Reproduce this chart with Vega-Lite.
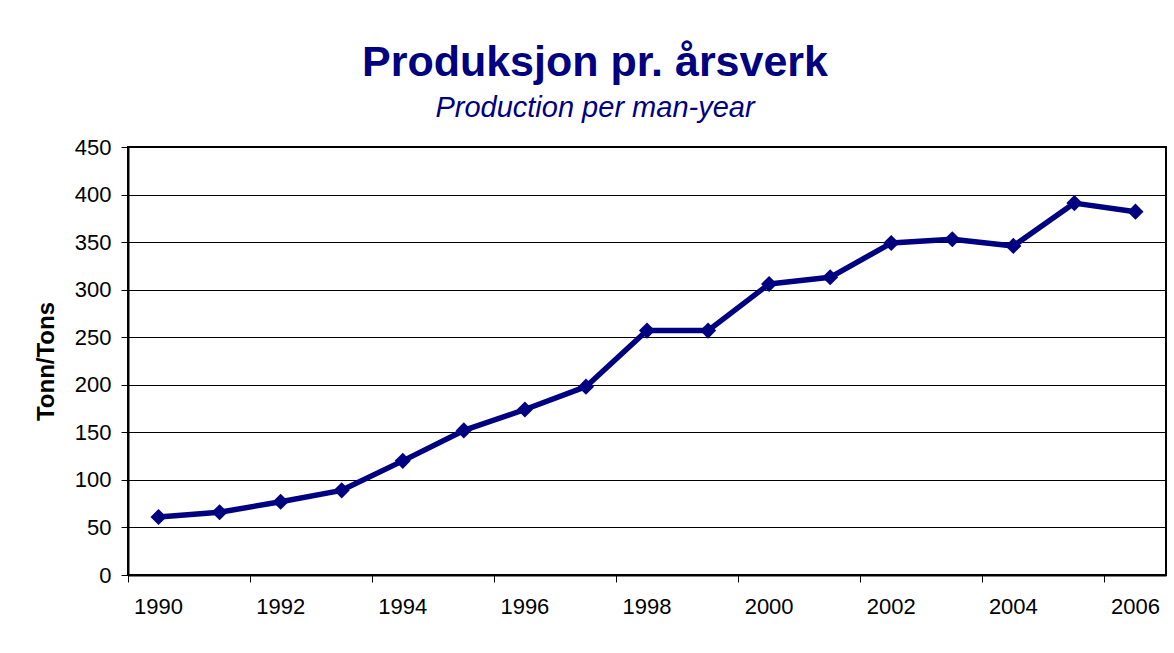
{
  "$schema": "https://vega.github.io/schema/vega-lite/v6.json",
  "width": 1038,
  "height": 428,
  "autosize": "none",
  "padding": {"left": 128, "top": 147, "right": 8, "bottom": 78},
  "background": "white",
  "title": {
    "text": "Produksjon pr. årsverk",
    "subtitle": "Production per man-year",
    "anchor": "middle",
    "frame": "group",
    "dx": -52,
    "font": "Liberation Sans",
    "fontSize": 43,
    "fontWeight": "bold",
    "color": "#000080",
    "subtitleFont": "Liberation Sans",
    "subtitleFontSize": 29,
    "subtitleFontStyle": "italic",
    "subtitleColor": "#000080",
    "subtitlePadding": 9,
    "offset": 13
  },
  "config": {
    "view": {"stroke": "black", "strokeWidth": 2},
    "axis": {
      "labelFont": "Liberation Sans",
      "labelFontSize": 22,
      "labelColor": "black",
      "titleFont": "Liberation Sans",
      "titleColor": "black",
      "domainColor": "black",
      "domainWidth": 2,
      "tickColor": "black",
      "tickSize": 7,
      "tickWidth": 1
    }
  },
  "data": {
    "values": [
      {"year": 1990, "value": 61},
      {"year": 1991, "value": 66},
      {"year": 1992, "value": 77},
      {"year": 1993, "value": 89},
      {"year": 1994, "value": 120},
      {"year": 1995, "value": 152},
      {"year": 1996, "value": 174},
      {"year": 1997, "value": 198},
      {"year": 1998, "value": 257},
      {"year": 1999, "value": 257},
      {"year": 2000, "value": 306},
      {"year": 2001, "value": 313},
      {"year": 2002, "value": 349},
      {"year": 2003, "value": 353},
      {"year": 2004, "value": 346},
      {"year": 2005, "value": 391},
      {"year": 2006, "value": 382}
    ]
  },
  "encoding": {
    "x": {
      "field": "year",
      "type": "ordinal",
      "scale": {"type": "band", "paddingInner": 0, "paddingOuter": 0},
      "axis": {
        "values": [1990, 1992, 1994, 1996, 1998, 2000, 2002, 2004, 2006],
        "bandPosition": 0,
        "tickExtra": false,
        "labelAngle": 0,
        "labelPadding": 14,
        "grid": false,
        "title": null
      }
    },
    "y": {
      "field": "value",
      "type": "quantitative",
      "scale": {"domain": [0, 450]},
      "axis": {
        "values": [0, 50, 100, 150, 200, 250, 300, 350, 400, 450],
        "grid": true,
        "gridColor": "black",
        "gridWidth": 1,
        "gridOpacity": 1,
        "labelPadding": 10,
        "title": "Tonn/Tons",
        "titleFontSize": 24,
        "titleFontWeight": "bold",
        "titlePadding": 16
      }
    }
  },
  "layer": [
    {"mark": {"type": "line", "color": "#000080", "strokeWidth": 5.5, "strokeJoin": "round"}},
    {"mark": {"type": "point", "shape": "diamond", "filled": true, "size": 260, "color": "#000080", "opacity": 1}}
  ]
}
